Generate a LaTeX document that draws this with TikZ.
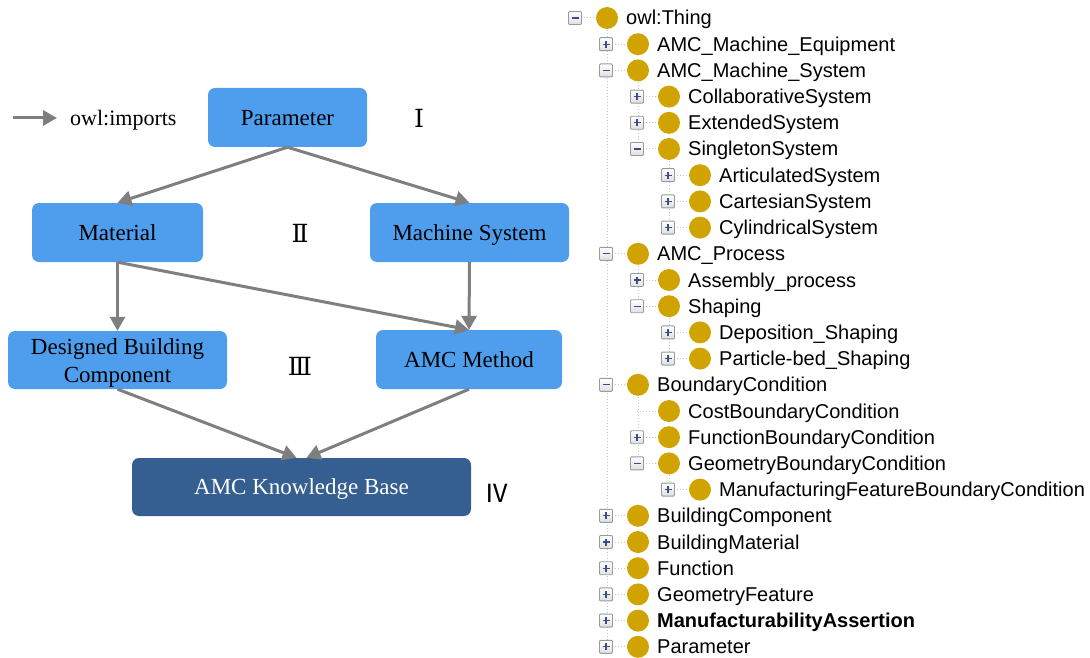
\documentclass[tikz,border=0pt]{standalone}
\usepackage{fontspec}
\setmainfont{Liberation Serif}
\newfontfamily\treefont{Liberation Sans}
\newfontfamily\romfont{DejaVu Serif}
\newfontfamily\cjk{Noto Sans CJK SC}
\usetikzlibrary{arrows.meta,backgrounds}
\definecolor{boxblue}{HTML}{4F9EEE}
\definecolor{kbblue}{HTML}{365F91}
\definecolor{arrowgray}{HTML}{7F7F7F}
\definecolor{gold}{HTML}{D1A300}
\definecolor{expgray}{HTML}{9A9A9A}
\definecolor{signblue}{HTML}{3C4C8C}
\definecolor{dotgray}{HTML}{C4C4C4}
\tikzset{
  box/.style={rounded corners=7pt, fill=boxblue, minimum height=59pt, inner sep=0pt,
    font=\fontsize{23}{28}\selectfont, text height=15.5pt, text depth=0pt},
  box2/.style={rounded corners=7pt, fill=boxblue, minimum height=58pt, inner sep=0pt,
    font=\fontsize{23}{28}\selectfont},
  imp/.style={draw=arrowgray, line width=3pt, -{Triangle[length=14pt,width=15pt]}},
  roman/.style={inner sep=0pt, font=\romfont\fontsize{25}{25}\selectfont},
  golddot/.style={circle, fill=gold, minimum size=22pt, inner sep=0pt},
  lbl/.style={anchor=west, inner sep=0pt, text height=14pt, text depth=0pt,
    font=\treefont\fontsize{20}{24}\selectfont},
  expbox/.style={draw=expgray, line width=0.9pt, top color=white, bottom color=gray!25,
    minimum size=13pt, inner sep=0pt, rounded corners=1pt},
  sign/.style={draw=signblue, line width=1.3pt},
  treeline/.style={draw=dotgray, line width=1pt, dotted}
}
\begin{document}
\begin{tikzpicture}[x=1pt,y=-1pt]
\useasboundingbox (0,0) rectangle (1090,658);
% ---------- left diagram ----------
\coordinate (lg1) at (13,118);
\coordinate (lg2) at (57,118);
\draw[imp] (lg1) -- (lg2);
\node[anchor=west, inner sep=0pt, text height=15pt, text depth=0pt, font=\fontsize{22}{26}\selectfont] (lgt) at (70,118) {owl:imports};

\node[box, minimum width=159pt] (par) at (287.5,117.5) {Parameter};
\node[box, minimum width=171pt] (mat) at (117.5,232.5) {Material};
\node[box, minimum width=199pt] (ms) at (469.5,232.5) {Machine System};
\node[box2, minimum width=219pt] (dbc) at (117.5,360) {\raisebox{-8.75pt}[0pt][0pt]{\begin{tabular}{@{}c@{}}Designed Building\\Component\end{tabular}}};
\node[box, minimum width=186pt] (amc) at (469,359.5) {AMC Method};
\node[box, minimum width=339pt, minimum height=58pt, fill=kbblue, text=white] (kb) at (301.5,487) {AMC Knowledge Base};

\node[roman] (r1) at (419,118) {Ⅰ};
\node[roman] (r2) at (300,233) {Ⅱ};
\node[roman] (r3) at (300,366) {Ⅲ};
\node[inner sep=0pt, font=\cjk\fontsize{25}{25}\selectfont] (r4) at (497,493) {Ⅳ};

\draw[imp] (par.south) -- (mat.north);
\draw[imp] (par.south) -- (ms.north);
\draw[imp] (mat.south) -- (dbc.north);
\draw[imp] (mat.south) -- (amc.north);
\draw[imp] (ms.south) -- (amc.north);
\draw[imp] (dbc.south) -- ([xshift=-5pt]kb.north);
\draw[imp] (amc.south) -- ([xshift=5pt]kb.north);

% ---------- right tree ----------
\foreach \i/\lv/\txt in {
  0/0/owl:Thing,
  1/1/AMC\_Machine\_Equipment,
  2/1/AMC\_Machine\_System,
  3/2/CollaborativeSystem,
  4/2/ExtendedSystem,
  5/2/SingletonSystem,
  6/3/ArticulatedSystem,
  7/3/CartesianSystem,
  8/3/CylindricalSystem,
  9/1/AMC\_Process,
  10/2/Assembly\_process,
  11/2/Shaping,
  12/3/Deposition\_Shaping,
  13/3/Particle-bed\_Shaping,
  14/1/BoundaryCondition,
  15/2/CostBoundaryCondition,
  16/2/FunctionBoundaryCondition,
  17/2/GeometryBoundaryCondition,
  18/3/ManufacturingFeatureBoundaryCondition,
  19/1/BuildingComponent,
  20/1/BuildingMaterial,
  21/1/Function,
  22/1/GeometryFeature,
  23/1/\textbf{ManufacturabilityAssertion},
  24/1/Parameter}{
  \pgfmathsetmacro\yy{18+26.2*\i}
  \pgfmathsetmacro\xx{575+31*\lv}
  \coordinate (e\i) at (\xx,\yy);
  \node[golddot] (c\i) at (\xx+32,\yy) {};
  \node[lbl] (t\i) at (\xx+51,\yy) {\txt};
}
\begin{scope}[on background layer]
  \foreach \i in {0,...,24}{
    \draw[treeline] (e\i) -- (c\i.west);
  }
  \foreach \p/\l in {0/24,2/5,5/8,9/11,11/13,14/17,17/18}{
    \draw[treeline] (c\p.center) -- (c\p.center |- e\l);
  }
\end{scope}
\foreach \i in {1,3,4,6,7,8,10,12,13,16,18,19,20,21,22,23,24}{
  \node[expbox] (x\i) at (e\i) {};
  \draw[sign] ([xshift=-3.5pt]x\i.center) -- ([xshift=3.5pt]x\i.center);
  \draw[sign] ([yshift=-3.5pt]x\i.center) -- ([yshift=3.5pt]x\i.center);
}
\foreach \i in {0,2,5,9,11,14,17}{
  \node[expbox] (x\i) at (e\i) {};
  \draw[sign] ([xshift=-3.5pt]x\i.center) -- ([xshift=3.5pt]x\i.center);
}
\end{tikzpicture}
\end{document}
